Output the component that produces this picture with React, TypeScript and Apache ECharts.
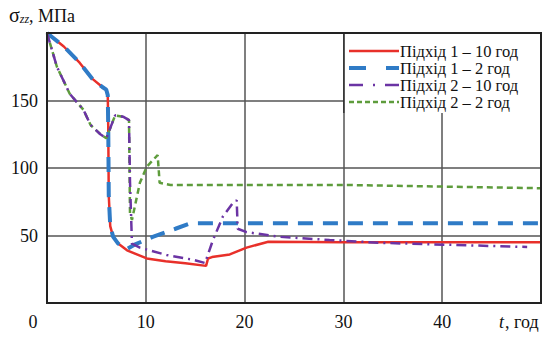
import React, { useEffect, useRef } from "react";
import * as echarts from "echarts";

const seriesNames = ["Підхід 1 – 10 год", "Підхід 1 – 2 год", "Підхід 2 – 10 год", "Підхід 2 – 2 год"];
const xTicks = ["10", "20", "30", "40"];
const yTicks = ["50", "100", "150"];

const tRed = [0, 1.7, 3.3, 4.6, 5.6, 6.0, 6.15, 6.2, 6.25, 6.4, 6.7, 7.2, 8.1, 10.1, 12, 14, 16.1, 16.3, 16.7, 18.5, 20.2, 22.4, 30, 40, 50];
const yRed = [200, 190, 178, 166, 160, 158, 154, 130, 80, 57, 49, 44, 39, 33, 31, 29.5, 27.5, 33, 34, 36, 41, 45.4, 45, 45, 45];

const tBlue = [0, 1.7, 3.3, 4.6, 5.6, 6.0, 6.15, 6.2, 6.25, 6.4, 6.7, 7.2, 8.1, 8.8, 10.7, 13, 14.5, 30, 50];
const yBlue = [200, 190, 178, 166, 160, 158, 154, 130, 80, 57, 49, 44, 40, 43, 49, 55, 59, 59, 59];

const tPurple = [0, 1, 2.3, 3.7, 4.4, 5.4, 6.0, 6.9, 7.7, 8.3, 8.4, 8.6, 9.4, 12.1, 14.8, 16.0, 16.8, 17.8, 18.8, 19.2, 19.3, 20.2, 23.6, 28.6, 33.7, 38.8, 48.6];
const yPurple = [200, 175, 155, 143, 132, 125, 122, 139, 138, 135.5, 90, 44, 41, 35.6, 32, 29.6, 46.7, 64, 74, 76, 55, 52.5, 49, 46.7, 44.6, 43.5, 41.5];

const tGreen = [0, 1, 2.3, 3.7, 4.4, 5.4, 6.0, 6.9, 7.7, 8.3, 8.4, 8.6, 9.4, 10.1, 11.2, 11.4, 12.5, 30.4, 50];
const yGreen = [200, 175, 155, 143, 132, 125, 122, 139, 138, 135.5, 66.5, 61.5, 89, 101, 109.6, 89, 87.4, 87.4, 85];

const colors = ["#e8302a", "#2f7bc6", "#6b34a4", "#5e9c3c"];

const zip = (t: number[], y: number[]) => t.map((v, i) => [v, y[i]]);

export default function App() {
  const ref = useRef<HTMLDivElement>(null);
  useEffect(() => {
    if (!ref.current) return;
    const chart = echarts.init(ref.current, null, { renderer: "svg" });
    const font = "Liberation Serif";
    const fs = 18;
    const styles = [
      { width: 2.5, type: "solid" as any },
      { width: 4, type: [15, 10] as any },
      { width: 2.5, type: [10, 5, 2, 5] as any },
      { width: 2.5, type: [6, 4] as any },
    ];
    const zs = [2, 3, 5, 4];
    const data = [zip(tRed, yRed), zip(tBlue, yBlue), zip(tPurple, yPurple), zip(tGreen, yGreen)];
    const legX = 349, legY0 = 51, legDy = 17;
    const legend: any[] = [
      { type: "rect", shape: { x: 344, y: 33, width: 197, height: 80 }, style: { fill: "#fff", stroke: "none" }, z: 10 },
      { type: "line", shape: { x1: 344, y1: 33, x2: 344, y2: 113 }, style: { stroke: "#222", lineWidth: 1.5 }, z: 11 },
    ];
    seriesNames.forEach((n, i) => {
      const y = legY0 + i * legDy;
      legend.push({
        type: "line",
        shape: { x1: legX, y1: y, x2: 399, y2: y },
        style: { stroke: colors[i], lineWidth: styles[i].width, lineDash: i === 0 ? null : i === 1 ? [17, 20] : i === 2 ? [14, 10, 2, 10] : [5, 3] },
        z: 11,
      });
      legend.push({
        type: "text",
        x: 400,
        y,
        style: { text: n, fontFamily: font, fontSize: 16.5, lineHeight: 16, fill: "#111", textVerticalAlign: "middle" },
        z: 11,
      });
    });
    chart.setOption({
      animation: false,
      textStyle: { fontFamily: font },
      grid: { left: 47, right: 5, top: 33, bottom: 34 },
      xAxis: {
        type: "value",
        min: 0,
        max: 50,
        interval: 10,
        axisLine: { show: false },
        axisTick: { show: false },
        splitLine: { lineStyle: { color: "#555", width: 1.5 } },
        axisLabel: {
          fontFamily: font,
          fontSize: fs,
          color: "#111",
          margin: 10,
          formatter: (v: number) => (xTicks.includes(String(v)) ? String(v) : ""),
        },
      },
      yAxis: {
        type: "value",
        min: 0,
        max: 200,
        interval: 50,
        axisLine: { show: false },
        axisTick: { show: false },
        splitLine: { lineStyle: { color: "#555", width: 1.5 } },
        axisLabel: {
          fontFamily: font,
          fontSize: fs,
          color: "#111",
          margin: 9,
          formatter: (v: number) => (yTicks.includes(String(v)) ? String(v) : ""),
        },
      },
      series: [0, 1, 2, 3].map((i) => ({
        name: seriesNames[i],
        type: "line",
        data: data[i],
        showSymbol: false,
        symbol: "none",
        smooth: false,
        lineStyle: { color: colors[i], width: styles[i].width, type: styles[i].type },
        z: zs[i],
      })),
      graphic: [
        { type: "rect", shape: { x: 47, y: 33, width: 494, height: 270 }, style: { fill: "none", stroke: "#222", lineWidth: 2 }, z: 12 },
        ...legend,
        {
          type: "text",
          x: 9,
          y: 5,
          style: {
            text: "{s|σ}{z|zz}{n|, МПа}",
            fontFamily: font,
            rich: {
              s: { fontFamily: font, fontSize: 20, fill: "#111", verticalAlign: "bottom" },
              z: { fontFamily: font, fontSize: 12, fontStyle: "italic", fill: "#111", verticalAlign: "bottom" },
              n: { fontFamily: font, fontSize: fs, fill: "#111", verticalAlign: "bottom" },
            },
          },
        },
        { type: "text", x: 33, y: 322, style: { text: "0", fontFamily: font, fontSize: fs, fill: "#111", textAlign: "center", textVerticalAlign: "middle" } },
        { type: "text", x: 499, y: 322, style: { text: "t", fontFamily: font, fontSize: fs, fontStyle: "italic", fill: "#111", textVerticalAlign: "middle" } },
        { type: "text", x: 505, y: 322, style: { text: ", год", fontFamily: font, fontSize: fs, fill: "#111", textVerticalAlign: "middle" } },
      ],
    });
    return () => chart.dispose();
  }, []);
  return <div ref={ref} style={{ width: 546, height: 337, position: "absolute", left: 0, top: 0, background: "#fff" }} />;
}
